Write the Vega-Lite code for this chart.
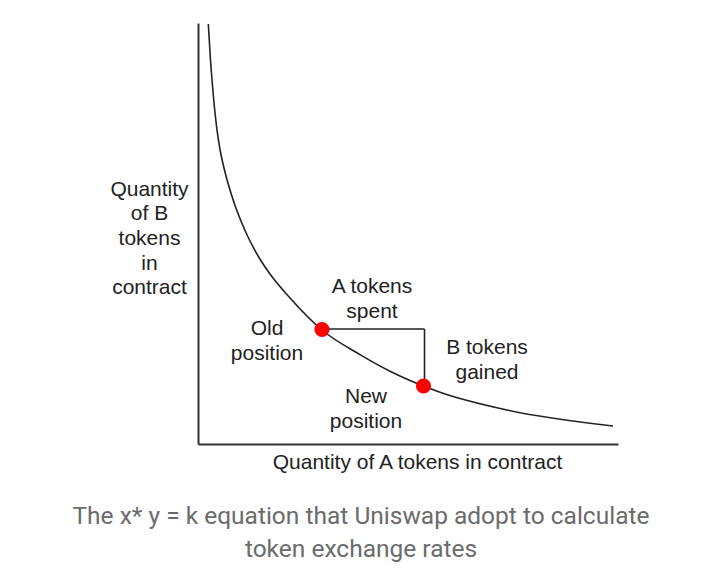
{
  "$schema": "https://vega.github.io/schema/vega-lite/v6.json",
  "autosize": {"type": "none"},
  "width": 420,
  "height": 421,
  "padding": {"left": 198, "top": 23, "right": 102, "bottom": 134},
  "background": "white",
  "config": {"view": {"stroke": null}, "font": "Liberation Sans"},
  "title": {
    "text": ["The x* y = k equation that Uniswap adopt to calculate", "token exchange rates"],
    "orient": "bottom",
    "anchor": "middle",
    "frame": "group",
    "dx": -47,
    "offset": 33,
    "font": "Roboto",
    "fontSize": 24.5,
    "fontWeight": "normal",
    "color": "#6b6b6b",
    "lineHeight": 33
  },
  "datasets": {
    "curve": [
      {"a": 10.3, "b": 420},
      {"a": 12.5, "b": 384},
      {"a": 15.3, "b": 349},
      {"a": 19, "b": 314},
      {"a": 22, "b": 294.5},
      {"a": 26.5, "b": 274},
      {"a": 35, "b": 244.4},
      {"a": 47, "b": 213.5},
      {"a": 61.3, "b": 186},
      {"a": 72, "b": 170},
      {"a": 92, "b": 146},
      {"a": 124, "b": 114},
      {"a": 162, "b": 89.4},
      {"a": 192, "b": 72.8},
      {"a": 225.5, "b": 58},
      {"a": 242, "b": 51.8},
      {"a": 309, "b": 34},
      {"a": 415, "b": 18}
    ],
    "points": [
      {"a": 124, "b": 114.5, "name": "Old position"},
      {"a": 225.5, "b": 58, "name": "New position"}
    ],
    "steps": [
      {"a": 124, "a2": 226.5, "b": 115, "b2": 115},
      {"a": 226.5, "a2": 226.5, "b": 115, "b2": 58}
    ],
    "labels": [
      {"a": 69, "b": 115, "label": "Old"},
      {"a": 69, "b": 90, "label": "position"},
      {"a": 174, "b": 157, "label": "A tokens"},
      {"a": 174, "b": 132, "label": "spent"},
      {"a": 289, "b": 96, "label": "B tokens"},
      {"a": 289, "b": 71, "label": "gained"},
      {"a": 168, "b": 47, "label": "New"},
      {"a": 168, "b": 22, "label": "position"}
    ]
  },
  "layer": [
    {
      "data": {"name": "curve"},
      "mark": {"type": "line", "interpolate": "monotone", "color": "#222222", "strokeWidth": 1.6},
      "encoding": {
        "x": {
          "field": "a", "type": "quantitative",
          "scale": {"domain": [0, 420], "nice": false, "zero": false},
          "axis": {
            "title": "Quantity of A tokens in contract",
            "labels": false, "ticks": false, "grid": false,
            "domainColor": "#333333", "domainWidth": 2,
            "titleFont": "Liberation Sans", "titleFontSize": 21, "titleFontWeight": "normal",
            "titleColor": "#222222", "titleX": 219, "titleY": 18, "titleBaseline": "middle", "titleAlign": "center"
          }
        },
        "y": {
          "field": "b", "type": "quantitative",
          "scale": {"domain": [0, 421], "nice": false, "zero": false},
          "axis": {
            "title": ["Quantity", "of B", "tokens", "in", "contract"],
            "labels": false, "ticks": false, "grid": false,
            "domainColor": "#333333", "domainWidth": 2,
            "titleFont": "Liberation Sans", "titleFontSize": 21, "titleFontWeight": "normal",
            "titleColor": "#222222", "titleAngle": 0, "titleAlign": "center",
            "titleBaseline": "middle", "titleLineHeight": 24.7,
            "titleX": -49, "titleY": 166
          }
        }
      }
    },
    {
      "data": {"name": "steps"},
      "mark": {"type": "rule", "color": "#222222", "strokeWidth": 1.6},
      "encoding": {
        "x": {"field": "a", "type": "quantitative"},
        "x2": {"field": "a2"},
        "y": {"field": "b", "type": "quantitative"},
        "y2": {"field": "b2"}
      }
    },
    {
      "data": {"name": "points"},
      "mark": {"type": "circle", "color": "#ff0000", "opacity": 1, "size": 230},
      "encoding": {
        "x": {"field": "a", "type": "quantitative"},
        "y": {"field": "b", "type": "quantitative"}
      }
    },
    {
      "data": {"name": "labels"},
      "mark": {"type": "text", "font": "Liberation Sans", "fontSize": 21, "color": "#222222", "align": "center", "baseline": "middle"},
      "encoding": {
        "x": {"field": "a", "type": "quantitative"},
        "y": {"field": "b", "type": "quantitative"},
        "text": {"field": "label"}
      }
    }
  ]
}
